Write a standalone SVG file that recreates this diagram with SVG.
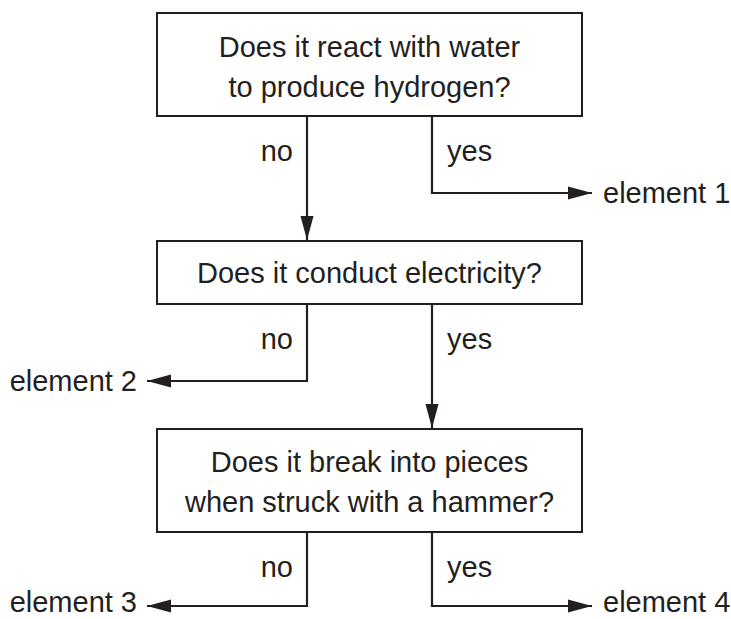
<svg xmlns="http://www.w3.org/2000/svg" width="731" height="619" viewBox="0 0 731 619">
<defs>
<style>
.box{fill:#fff;stroke:#231f20;stroke-width:2}
.t{font-family:"Liberation Sans",Arial,sans-serif;font-size:29px;fill:#231f20}
.c{text-anchor:middle}
.e{text-anchor:end}
.ln{fill:none;stroke:#231f20;stroke-width:2.2}
</style>
<marker id="ah" markerUnits="userSpaceOnUse" markerWidth="24" markerHeight="14" viewBox="0 0 22 12" refX="22" refY="6" orient="auto">
<path d="M0,0 L22,6 L0,12 Z" fill="#231f20"/>
</marker>
</defs>
<rect width="731" height="619" fill="#fff"/>
<g id="q1">
<rect class="box" x="157" y="13" width="425" height="103"/>
<text class="t c" x="369.5" y="57">Does it react with water</text>
<text class="t c" x="369.5" y="97">to produce hydrogen?</text>
</g>
<g id="q2">
<rect class="box" x="157" y="241" width="425" height="63"/>
<text class="t c" x="369.5" y="283">Does it conduct electricity?</text>
</g>
<g id="q3">
<rect class="box" x="157" y="429" width="425" height="103"/>
<text class="t c" x="369.5" y="472">Does it break into pieces</text>
<text class="t c" x="369.5" y="512">when struck with a hammer?</text>
</g>
<g id="e1"><text class="t" x="603" y="203">element 1</text></g>
<g id="e2"><text class="t e" x="137" y="391">element 2</text></g>
<g id="e3"><text class="t e" x="137" y="612">element 3</text></g>
<g id="e4"><text class="t" x="603" y="612">element 4</text></g>
<g id="connectors">
<path class="ln" d="M307,116 V240" marker-end="url(#ah)"/>
<path class="ln" d="M432,116 V193 H592" marker-end="url(#ah)"/>
<path class="ln" d="M307,304 V381 H147" marker-end="url(#ah)"/>
<path class="ln" d="M432,304 V428" marker-end="url(#ah)"/>
<path class="ln" d="M307,532 V606 H147" marker-end="url(#ah)"/>
<path class="ln" d="M432,532 V606 H592" marker-end="url(#ah)"/>
<text class="t e" x="293" y="161">no</text>
<text class="t" x="447" y="161">yes</text>
<text class="t e" x="293" y="349">no</text>
<text class="t" x="447" y="349">yes</text>
<text class="t e" x="293" y="577">no</text>
<text class="t" x="447" y="577">yes</text>
</g>
</svg>
